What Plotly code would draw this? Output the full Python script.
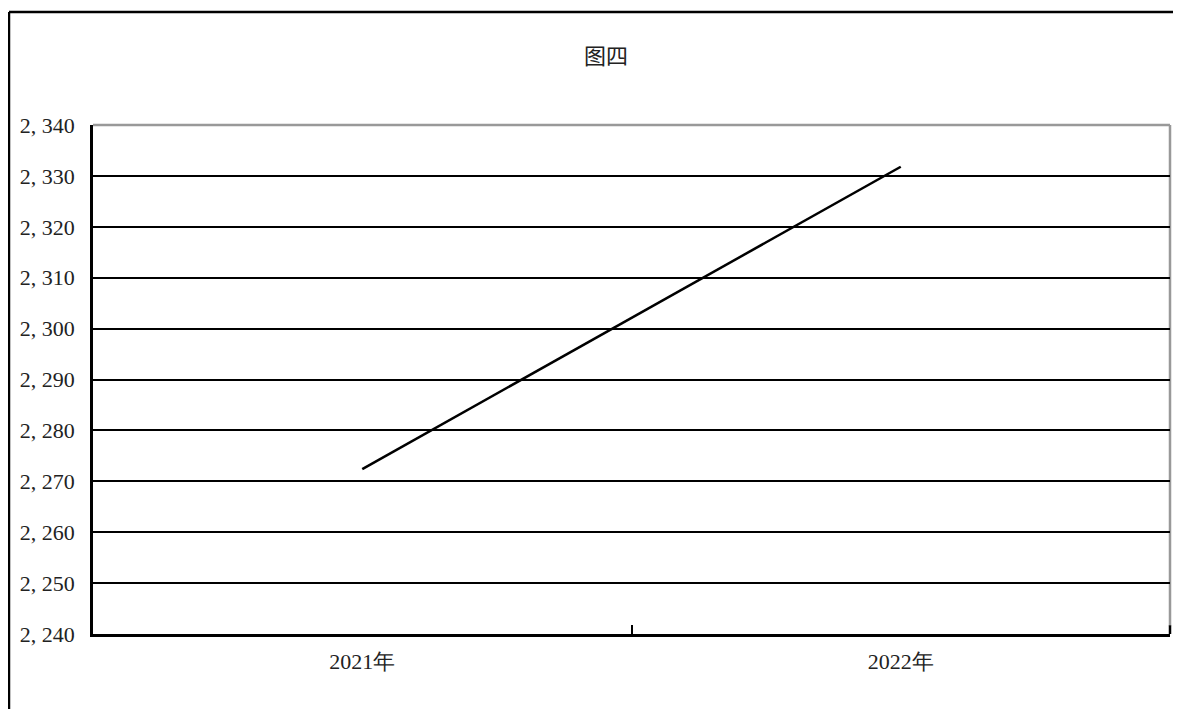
import plotly.graph_objects as go

categories = ["2021年", "2022年"]
values = [2272.4, 2331.8]
y_ticks = [2240, 2250, 2260, 2270, 2280, 2290, 2300, 2310, 2320, 2330, 2340]
y_tick_labels = [f"{v:,}".replace(",", ", ") for v in y_ticks]
chart_title = "图四"

serif = "Liberation Serif, Noto Sans CJK SC, serif"

fig = go.Figure()
fig.add_trace(go.Scatter(
    x=categories, y=values, mode="lines",
    line=dict(color="black", width=2.5),
    showlegend=False, hoverinfo="skip",
))

fig.update_layout(
    width=1173, height=701,
    margin=dict(l=85, r=11, t=117, b=75),
    paper_bgcolor="white", plot_bgcolor="white",
    annotations=[dict(text=chart_title, xref="paper", yref="paper",
                      x=0.476, y=1.14, xanchor="center", yanchor="middle",
                      showarrow=False,
                      font=dict(family="Noto Sans CJK SC", size=22, color="#222"))],
    xaxis=dict(
        type="category", range=[-0.5, 1.5], tickson="boundaries",
        ticks="inside", ticklen=9, tickwidth=2, tickcolor="black",
        showline=True, linecolor="black", linewidth=2.5,
        showgrid=False, zeroline=False,
        tickfont=dict(family="Liberation Serif", size=22, color="#222"),
        ticklabelstandoff=6,
    ),
    yaxis=dict(
        range=[2240, 2340], tickvals=y_ticks, ticktext=y_tick_labels,
        ticks="inside", ticklen=8, tickwidth=2, tickcolor="black",
        showline=True, linecolor="black", linewidth=2.5,
        showgrid=True, gridcolor="black", gridwidth=1.5,
        zeroline=False,
        tickfont=dict(family=serif, size=22, color="#222"),
        ticklabelstandoff=11,
    ),
    shapes=[
        # gray plot border top and right
        dict(type="line", xref="x domain", yref="y domain", x0=0, x1=1, y0=1, y1=1,
             line=dict(color="#999", width=2.5), layer="below"),
        dict(type="line", xref="x domain", yref="y domain", x0=1, x1=1, y0=0.015, y1=1,
             line=dict(color="#999", width=2.5), layer="below"),
        # right-end boundary tick
        dict(type="line", xref="x domain", yref="y domain", x0=1, x1=1, y0=0, y1=0.017,
             line=dict(color="black", width=2.5)),
        # outer frame
        dict(type="line", xref="paper", yref="paper", x0=-0.078, x1=1.03, y0=1.222, y1=1.222,
             line=dict(color="black", width=2.5)),
        dict(type="line", xref="paper", yref="paper", x0=-0.078, x1=-0.078, y0=1.222, y1=-0.2,
             line=dict(color="black", width=2.5)),
    ],
)

fig.write_html("out.html")
